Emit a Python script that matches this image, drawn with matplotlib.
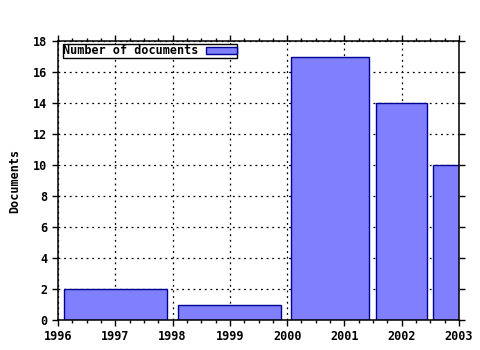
import matplotlib
matplotlib.use("Agg")
import matplotlib.pyplot as plt
from matplotlib.ticker import MultipleLocator
import numpy as np

# histogram bins (year edges) and counts
bin_edges = [1996, 1998, 2000, 2001.5, 2002.5, 2003.5]
counts = [2, 1, 17, 14, 10]

edges = np.array(bin_edges)
centers = (edges[:-1] + edges[1:]) / 2
widths = (edges[1:] - edges[:-1]) * 0.9

plt.rcParams['font.family'] = 'DejaVu Sans Mono'
plt.rcParams['font.weight'] = 'bold'
plt.rcParams['axes.labelweight'] = 'bold'
plt.rcParams['font.size'] = 8.5

fig = plt.figure(figsize=(4.8, 3.5), dpi=100)
ax = fig.add_axes([58/480, 30/350, (459-58)/480, (320-41)/350])

ax.bar(centers, counts, width=widths, color='#8080ff', edgecolor='#000090',
       linewidth=1, label='Number of documents', zorder=3)

ax.set_xlim(1996, 2003)
ax.set_ylim(0, 18)
ax.xaxis.set_major_locator(MultipleLocator(1))
ax.xaxis.set_minor_locator(MultipleLocator(0.25))
ax.yaxis.set_major_locator(MultipleLocator(2))
ax.tick_params(which='both', direction='out', top=True, right=True, width=1)
ax.tick_params(which='major', length=4)
ax.tick_params(which='minor', length=2)
ax.grid(True, which='major', color='black', linestyle=(0, (1.5, 3)), linewidth=0.9, zorder=1)
for s in ax.spines.values():
    s.set_linewidth(1.1)
    s.set_zorder(4)

ax.set_ylabel('Documents', labelpad=9)

leg = ax.legend(loc='upper left', bbox_to_anchor=(0.012, 0.99), markerfirst=False,
                fancybox=False, framealpha=1, edgecolor='black', borderpad=0.05,
                handlelength=2.6, handleheight=0.55, handletextpad=0.6,
                borderaxespad=0)
leg.get_frame().set_linewidth(1)

fig.savefig('out.png', dpi=100)
